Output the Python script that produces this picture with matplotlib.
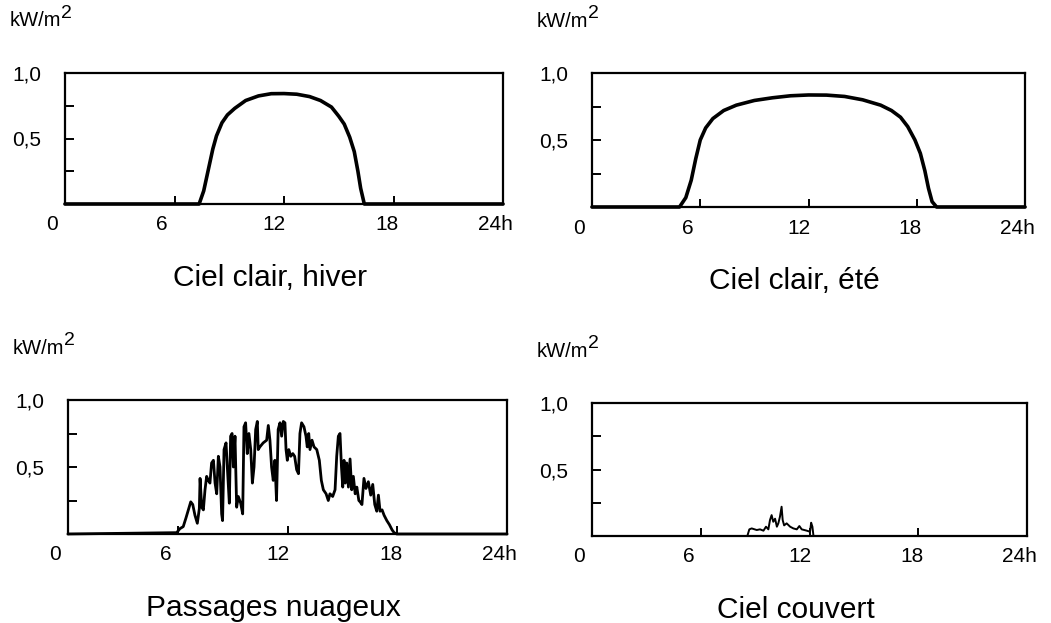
import matplotlib
matplotlib.use("Agg")
import matplotlib.pyplot as plt

plt.rcParams['font.family'] = ['Liberation Sans', 'DejaVu Sans']

# ---- data (hours, kW/m2) ----
winter_h = [0, 7.35, 7.6, 7.85, 8.1, 8.3, 8.6, 8.9, 9.3, 9.9, 10.6, 11.3, 12.0,
            12.7, 13.4, 14.0, 14.6, 15.0, 15.3, 15.6, 15.85, 16.05, 16.2, 16.4, 24]
winter_v = [0, 0, 0.10, 0.26, 0.42, 0.52, 0.62, 0.68, 0.73, 0.79, 0.825, 0.842, 0.843,
            0.838, 0.82, 0.79, 0.74, 0.67, 0.61, 0.51, 0.40, 0.25, 0.12, 0, 0]

summer_h = [0, 4.85, 5.2, 5.5, 5.75, 6.0, 6.3, 6.7, 7.3, 8.0, 9.0, 10.0, 11.0, 12.0,
            13.0, 14.0, 15.0, 16.0, 16.6, 17.1, 17.5, 17.9, 18.2, 18.45, 18.65,
            18.85, 19.1, 24]
summer_v = [0, 0, 0.07, 0.20, 0.36, 0.50, 0.59, 0.66, 0.72, 0.76, 0.795, 0.815, 0.83,
            0.836, 0.835, 0.825, 0.80, 0.76, 0.72, 0.67, 0.60, 0.50, 0.40, 0.27,
            0.14, 0.04, 0, 0]

cloudy_h = [0, 5.94, 6.12, 6.3, 6.45, 6.58, 6.71, 6.82, 6.94, 7.07, 7.18,
            7.22, 7.31, 7.40, 7.49, 7.58, 7.67, 7.76, 7.85, 7.95, 8.04, 8.13, 8.22,
            8.31, 8.40, 8.45, 8.53, 8.64, 8.71, 8.82, 8.89, 8.97, 9.04, 9.13, 9.22,
            9.31, 9.44, 9.55, 9.62, 9.71, 9.80, 9.89, 9.99, 10.08, 10.17, 10.26,
            10.35, 10.40, 10.49, 10.67, 10.86, 10.95, 11.04, 11.13, 11.22, 11.31,
            11.40, 11.49, 11.59,
            11.68, 11.77, 11.86, 11.92, 11.99, 12.07, 12.18, 12.29, 12.39, 12.50,
            12.60, 12.68, 12.77, 12.90, 13.01, 13.08, 13.16, 13.23, 13.34, 13.45,
            13.60, 13.74, 13.85, 13.96, 14.11, 14.23, 14.32, 14.47, 14.60, 14.69,
            14.78, 14.87, 14.95, 15.02, 15.09, 15.16, 15.24, 15.33, 15.42, 15.51,
            15.60, 15.70, 15.79, 15.90,
            15.97, 16.07, 16.18, 16.29, 16.42, 16.55, 16.66, 16.77, 16.88, 16.97,
            17.06, 17.17, 17.28, 17.43, 17.57, 17.72, 17.83, 17.97, 24]
cloudy_v = [0, 0.01, 0.04, 0.055, 0.12, 0.18, 0.24, 0.22, 0.14, 0.08, 0.19,
            0.415, 0.20, 0.18, 0.33, 0.43, 0.40, 0.38, 0.53, 0.55, 0.38, 0.30, 0.58,
            0.50, 0.15, 0.10, 0.63, 0.68, 0.50, 0.23, 0.73, 0.75, 0.50, 0.73, 0.20,
            0.28, 0.23, 0.15, 0.80, 0.83, 0.60, 0.75, 0.63, 0.38, 0.50, 0.78,
            0.84, 0.63, 0.65, 0.68, 0.70, 0.81, 0.70, 0.50, 0.40, 0.55,
            0.25, 0.78, 0.83,
            0.73, 0.84, 0.83, 0.63, 0.55, 0.63, 0.58, 0.60, 0.58, 0.48,
            0.45, 0.75, 0.83, 0.80, 0.73, 0.65, 0.75, 0.63, 0.70, 0.65,
            0.63, 0.55, 0.40, 0.33, 0.30, 0.25, 0.30, 0.28, 0.33, 0.58,
            0.73, 0.75, 0.50, 0.35, 0.55, 0.38, 0.53, 0.35, 0.56, 0.33,
            0.43, 0.30, 0.35, 0.25,
            0.24, 0.22, 0.415, 0.34, 0.39, 0.29, 0.37, 0.22, 0.17, 0.29,
            0.17, 0.18, 0.14, 0.10, 0.07, 0.03, 0.01, 0, 0]

overcast_h = [0, 8.57, 8.68, 8.81, 9.09, 9.27, 9.46, 9.60, 9.73, 9.82, 9.91, 10.0,
              10.1, 10.2, 10.28, 10.37, 10.46, 10.52, 10.6, 10.74, 10.93, 11.11,
              11.3, 11.44, 11.57, 11.85, 12.03, 12.09, 12.16, 12.22, 24]
overcast_v = [0, 0, 0.05, 0.057, 0.045, 0.05, 0.04, 0.07, 0.05, 0.12, 0.157, 0.107,
              0.13, 0.07, 0.095, 0.145, 0.22, 0.12, 0.08, 0.095, 0.07, 0.057,
              0.05, 0.075, 0.05, 0.04, 0.032, 0.10, 0.07, 0, 0]

titles = ["Ciel clair, hiver", "Ciel clair, été", "Passages nuageux", "Ciel couvert"]
unit_text = "kW/m"
unit_sup = "2"
x_tick_hours = [6, 12, 18]
x_labels = ["0", "6", "12", "18", "24h"]
y_ticks = [0.25, 0.5, 0.75, 1.0]
y_labels = ["", "0,5", "", "1,0"]

series = [(winter_h, winter_v, 2.6), (summer_h, summer_v, 2.6),
          (cloudy_h, cloudy_v, 2.0), (overcast_h, overcast_v, 1.4)]

# ---- layout ----
W, H = 1051, 623
fig = plt.figure(figsize=(W / 100, H / 100), dpi=100)
boxes_px = [(65, 73, 503, 204), (592, 73, 1025, 207),
            (68, 400, 507, 534), (592, 403, 1027, 536)]
label_frac = [-0.03, 0.222, 0.478, 0.735, 0.983]
PT = 0.72  # points per pixel

for (l, t, r, b), (hx, vy, lw), title in zip(boxes_px, series, titles):
    ax = fig.add_axes([l / W, 1 - b / H, (r - l) / W, (b - t) / H])
    ax.plot(hx, vy, color='black', lw=lw, solid_joinstyle='round',
            solid_capstyle='round', clip_on=False)
    ax.set_xlim(0, 24)
    ax.set_ylim(0, 1.0)
    for s in ax.spines.values():
        s.set_linewidth(1.6)
    ax.set_xticks(x_tick_hours)
    ax.set_xticklabels([])
    ax.set_yticks(y_ticks)
    ax.set_yticklabels(y_labels, fontsize=15)
    ax.tick_params(axis='x', direction='in', length=6, width=1.4)
    ax.tick_params(axis='y', direction='in', length=6.5, width=1.4, pad=17)
    for fx, lab in zip(label_frac, x_labels):
        ax.annotate(lab, xy=(fx, 0), xycoords='axes fraction',
                    xytext=(0, -21 * PT), textcoords='offset points',
                    ha='center', va='center', fontsize=15)
    ax.annotate(title, xy=(0.468, 0), xycoords='axes fraction',
                xytext=(0, -82 * PT), textcoords='offset points',
                ha='center', va='baseline', fontsize=21.5)
    u = ax.annotate(unit_text, xy=(0, 1), xycoords='axes fraction',
                    xytext=(-55 * PT, 52 * PT), textcoords='offset points',
                    ha='left', va='center', fontsize=14.5)
    ax.annotate(unit_sup, xy=(1, 0.45), xycoords=u,
                xytext=(-0.5, 0), textcoords='offset points',
                ha='left', va='bottom', fontsize=14)

fig.savefig("out.png", dpi=100, facecolor='white')
